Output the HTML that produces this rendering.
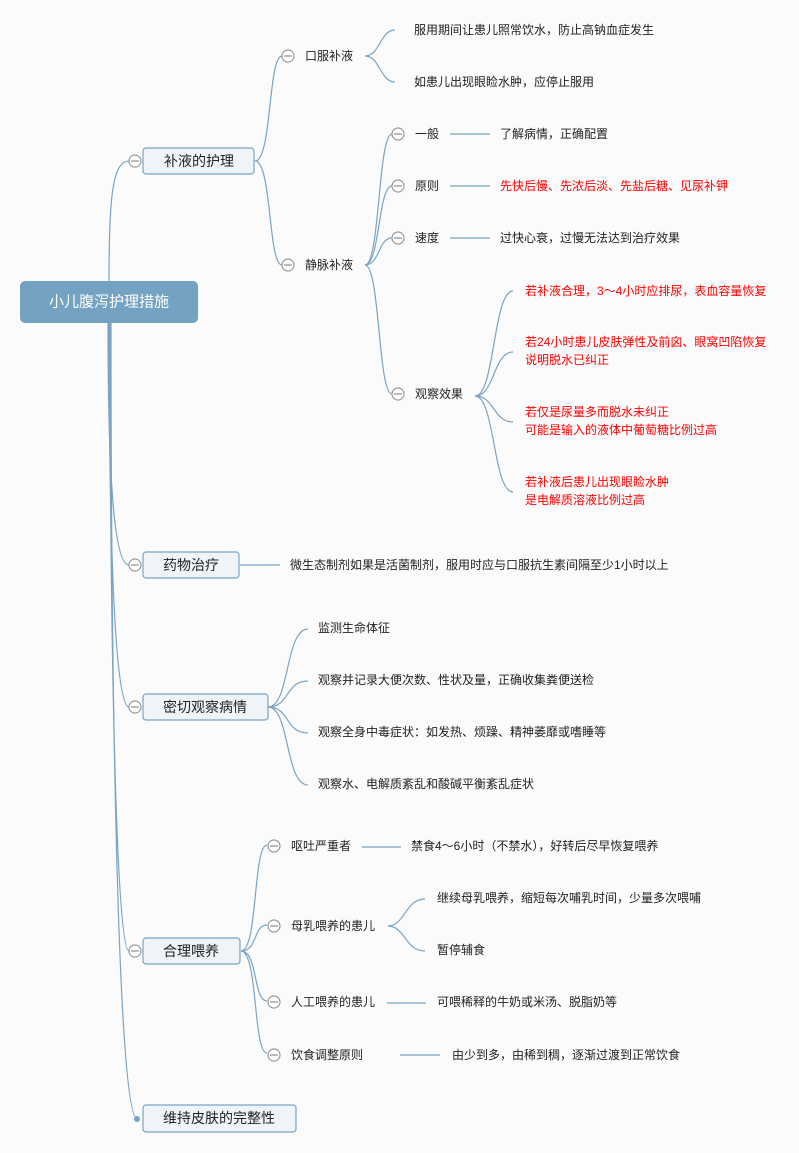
<!DOCTYPE html>
<html><head><meta charset="utf-8"><style>
html,body{margin:0;padding:0;background:#fbfbfb;}
svg{display:block;}
text{font-family:"Liberation Sans","Noto Sans CJK SC",sans-serif;font-size:12px;fill:#222;dominant-baseline:central;}
.r{fill:#ff0000;}
.t{font-size:14px;}
.c{fill:#fff;stroke:#999;stroke-width:1.2;}
.l{fill:none;stroke:#7aa4c4;stroke-width:1.2;}
.b{fill:#eff4f8;stroke:#7aa4c4;stroke-width:1.2;}
</style></head><body>
<svg width="799" height="1153" viewBox="0 0 799 1153" xmlns="http://www.w3.org/2000/svg">
<!-- root connectors -->
<path class="l" d="M109 282 C109 200 112 161 129 161"/>
<path class="l" d="M108 322 C108 450 112 565 129 565"/>
<path class="l" d="M109 322 C109 500 113 707 129 707"/>
<path class="l" d="M110 322 C110 600 115 951 129 951"/>
<path class="l" d="M111 322 C111 700 118 1118 137 1118"/>
<rect x="20" y="281" width="178" height="42" rx="5" fill="#74a2c2"/>
<text x="109" y="302" text-anchor="middle" style="fill:#fff;font-size:15px">小儿腹泻护理措施</text>

<!-- 补液的护理 -->
<rect class="b" x="143" y="148" width="111" height="26" rx="3"/>
<text class="t" x="199" y="161" text-anchor="middle">补液的护理</text>
<circle class="c" cx="135" cy="161" r="6"/><line x1="131" y1="161" x2="139" y2="161" stroke="#777"/>
<path class="l" d="M255 161 C272 161 268 56 282 56"/>
<path class="l" d="M255 161 C272 161 268 265 282 265"/>
<circle class="c" cx="288" cy="56" r="6"/><line x1="284" y1="56" x2="292" y2="56" stroke="#777"/>
<text x="305" y="56">口服补液</text>
<path class="l" d="M365 56 C380 56 380 30 395 30"/>
<path class="l" d="M365 56 C380 56 380 82 395 82"/>
<text x="414" y="30">服用期间让患儿照常饮水，防止高钠血症发生</text>
<text x="414" y="82">如患儿出现眼睑水肿，应停止服用</text>
<circle class="c" cx="288" cy="265" r="6"/><line x1="284" y1="265" x2="292" y2="265" stroke="#777"/>
<text x="305" y="265">静脉补液</text>
<path class="l" d="M365 265 C380 265 378 134 392 134"/>
<path class="l" d="M365 265 C380 265 378 186 392 186"/>
<path class="l" d="M365 265 C380 265 378 238 392 238"/>
<path class="l" d="M365 265 C380 265 378 394 392 394"/>
<circle class="c" cx="398" cy="134" r="6"/><line x1="394" y1="134" x2="402" y2="134" stroke="#777"/>
<circle class="c" cx="398" cy="186" r="6"/><line x1="394" y1="186" x2="402" y2="186" stroke="#777"/>
<circle class="c" cx="398" cy="238" r="6"/><line x1="394" y1="238" x2="402" y2="238" stroke="#777"/>
<circle class="c" cx="398" cy="394" r="6"/><line x1="394" y1="394" x2="402" y2="394" stroke="#777"/>
<text x="415" y="134">一般</text><line class="l" x1="450" y1="134" x2="490" y2="134"/>
<text x="500" y="134">了解病情，正确配置</text>
<text x="415" y="186">原则</text><line class="l" x1="450" y1="186" x2="490" y2="186"/>
<text class="r" x="500" y="186">先快后慢、先浓后淡、先盐后糖、见尿补钾</text>
<text x="415" y="238">速度</text><line class="l" x1="450" y1="238" x2="490" y2="238"/>
<text x="500" y="238">过快心衰，过慢无法达到治疗效果</text>
<text x="415" y="394">观察效果</text>
<path class="l" d="M475 396 C495 396 493 291 513 291"/>
<path class="l" d="M475 396 C495 396 493 352 513 352"/>
<path class="l" d="M475 396 C495 396 493 422 513 422"/>
<path class="l" d="M475 396 C495 396 493 492 513 492"/>
<text class="r" x="525" y="291">若补液合理，3～4小时应排尿，表血容量恢复</text>
<text class="r" x="525" y="342">若24小时患儿皮肤弹性及前囟、眼窝凹陷恢复</text>
<text class="r" x="525" y="360">说明脱水已纠正</text>
<text class="r" x="525" y="412">若仅是尿量多而脱水未纠正</text>
<text class="r" x="525" y="430">可能是输入的液体中葡萄糖比例过高</text>
<text class="r" x="525" y="482">若补液后患儿出现眼睑水肿</text>
<text class="r" x="525" y="500">是电解质溶液比例过高</text>

<!-- 药物治疗 -->
<rect class="b" x="143" y="552" width="96" height="26" rx="3"/>
<text class="t" x="191" y="565" text-anchor="middle">药物治疗</text>
<circle class="c" cx="135" cy="565" r="6"/><line x1="131" y1="565" x2="139" y2="565" stroke="#777"/>
<line class="l" x1="240" y1="565" x2="280" y2="565"/>
<text x="290" y="565">微生态制剂如果是活菌制剂，服用时应与口服抗生素间隔至少1小时以上</text>

<!-- 密切观察病情 -->
<rect class="b" x="143" y="694" width="125" height="26" rx="3"/>
<text class="t" x="205" y="707" text-anchor="middle">密切观察病情</text>
<circle class="c" cx="135" cy="707" r="6"/><line x1="131" y1="707" x2="139" y2="707" stroke="#777"/>
<path class="l" d="M268 707 C290 707 285 629 308 629"/>
<path class="l" d="M268 707 C290 707 285 681 308 681"/>
<path class="l" d="M268 707 C290 707 285 733 308 733"/>
<path class="l" d="M268 707 C290 707 285 785 308 785"/>
<text x="318" y="628">监测生命体征</text>
<text x="318" y="680">观察并记录大便次数、性状及量，正确收集粪便送检</text>
<text x="318" y="732">观察全身中毒症状：如发热、烦躁、精神萎靡或嗜睡等</text>
<text x="318" y="784">观察水、电解质紊乱和酸碱平衡紊乱症状</text>

<!-- 合理喂养 -->
<rect class="b" x="143" y="938" width="97" height="26" rx="3"/>
<text class="t" x="191" y="951" text-anchor="middle">合理喂养</text>
<circle class="c" cx="135" cy="951" r="6"/><line x1="131" y1="951" x2="139" y2="951" stroke="#777"/>
<path class="l" d="M241 951 C258 951 253 845 267 845"/>
<path class="l" d="M241 951 C258 951 253 925 267 925"/>
<path class="l" d="M241 951 C258 951 253 1001 267 1001"/>
<path class="l" d="M241 951 C258 951 253 1053 267 1053"/>
<circle class="c" cx="274" cy="846" r="6"/><line x1="270" y1="846" x2="278" y2="846" stroke="#777"/>
<circle class="c" cx="274" cy="926" r="6"/><line x1="270" y1="926" x2="278" y2="926" stroke="#777"/>
<circle class="c" cx="274" cy="1002" r="6"/><line x1="270" y1="1002" x2="278" y2="1002" stroke="#777"/>
<circle class="c" cx="274" cy="1055" r="6"/><line x1="270" y1="1055" x2="278" y2="1055" stroke="#777"/>
<text x="291" y="846">呕吐严重者</text><line class="l" x1="362" y1="847" x2="401" y2="847"/>
<text x="411" y="846">禁食4～6小时（不禁水），好转后尽早恢复喂养</text>
<text x="291" y="926">母乳喂养的患儿</text>
<path class="l" d="M388 926 C405 926 405 899 425 899"/>
<path class="l" d="M388 926 C405 926 405 951 425 951"/>
<text x="437" y="898">继续母乳喂养，缩短每次哺乳时间，少量多次喂哺</text>
<text x="437" y="950">暂停辅食</text>
<text x="291" y="1002">人工喂养的患儿</text><line class="l" x1="387" y1="1003" x2="426" y2="1003"/>
<text x="437" y="1002">可喂稀释的牛奶或米汤、脱脂奶等</text>
<text x="291" y="1055">饮食调整原则</text><line class="l" x1="400" y1="1055" x2="440" y2="1055"/>
<text x="452" y="1055">由少到多，由稀到稠，逐渐过渡到正常饮食</text>

<!-- 维持皮肤 -->
<rect class="b" x="143" y="1105" width="153" height="27" rx="3"/>
<text class="t" x="219" y="1118" text-anchor="middle">维持皮肤的完整性</text>
<circle cx="137" cy="1119" r="3" fill="#7aa4c4"/>
</svg>
</body></html>
